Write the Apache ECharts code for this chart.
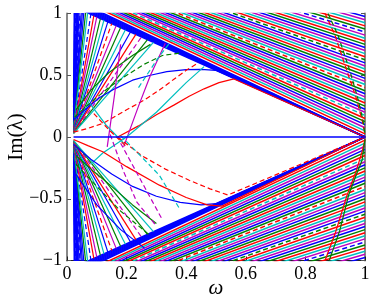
<!DOCTYPE html>
<html><head><meta charset="utf-8">
<script src="https://cdn.jsdelivr.net/npm/echarts@6/dist/echarts.min.js"></script>
<style>html,body{margin:0;padding:0;background:#fff}#c{width:374px;height:297px}</style>
</head><body><div id="c"></div>
<script>
// ---- data ----
const xTicks = [0, 0.2, 0.4, 0.6, 0.8, 1];
const yTicks = [-1, -0.5, 0, 0.5, 1];
// fan of straight lines (|Im| of conjugate pairs): value at omega=0 and at omega=1
const fanLeft  = [1.08,1.09,1.10,1.11,1.12,1.13,1.14,
  1.163,1.176,1.189,1.202,1.215,1.228,1.241,1.254,1.267,1.280,1.293,1.306,1.319,1.332,1.345,1.358,1.371,1.384,1.397,1.410,
  1.423,1.436,1.449,1.462,1.475,1.488,1.501,1.514,1.527,1.540,1.553,1.566,1.579,1.592,1.605,1.618,1.631,1.644,1.657];
const fanRight = [0,0,0,0,0,0,0,
  0.025,0.05,0.075,0.10,0.125,0.15,0.175,0.20,0.225,0.25,0.275,0.30,0.325,0.35,0.375,0.40,0.425,0.45,0.475,0.50,
  0.525,0.55,0.575,0.60,0.625,0.65,0.675,0.70,0.725,0.75,0.775,0.80,0.825,0.85,0.875,0.90,0.925,0.95,0.975];
// rising branches near the left edge: |Im| at omega=0.022, then the point where they reach the fan
const riseStartY = [0.32,0.28,0.24,0.21,0.18,0.16,0.14,0.12,0.11,0.10,0.09,0.085,0.08,0.075,0.07,0.065,0.06,0.06,0.055,0.05,0.05,0.045,0.045,0.04,0.04,0.035,0.035,0.03,0.03,0.03];
const riseEndW   = [0.024,0.026,0.028,0.030,0.032,0.034,0.036,0.038,0.041,0.044,0.048,0.052,0.057,0.063,0.070,0.080,0.090,0.100,0.112,0.124,0.137,0.150,0.165,0.180,0.196,0.213,0.231,0.250,0.270,0.290];
const riseEndY   = [1.02,1.02,1.02,1.02,1.02,1.02,1.02,1.02,1.02,1.02,1.02,1.02,1.02,1.02,1.02,0.994,0.983,0.972,0.959,0.946,0.932,0.918,0.902,0.886,0.868,0.850,0.831,0.810,0.788,0.767];
// individual curves (omega, Im)
const curves = [
  {c:'#0000FF', d:0, w:[0.022,0.06,0.11,0.16,0.22,0.28,0.335,0.40,0.45,0.50,1.0], y:[0.14,0.22,0.32,0.39,0.46,0.50,0.53,0.545,0.548,0.54,0.0]},
  {c:'#FF0000', d:1, w:[0.022,0.07,0.12,0.20,0.26,0.31,0.36,0.40,0.44], y:[0.04,0.07,0.11,0.22,0.30,0.38,0.47,0.54,0.60]},
  {c:'#008000', d:1, w:[0.025,0.08,0.14,0.20,0.26,0.32,0.38], y:[0.16,0.28,0.40,0.50,0.59,0.66,0.68]},
  {c:'#008000', d:0, w:[0.03,0.08,0.14,0.22,0.28], y:[0.22,0.38,0.52,0.66,0.75]},
  {c:'#FF0000', d:0, w:[0.17,0.24,0.30,0.36,0.41,0.46,0.51,0.56,1.0], y:[0.0,0.09,0.18,0.26,0.33,0.39,0.44,0.47,0.0]},
  {c:'#BF00BF', d:0, w:[0.135,0.16,0.18], y:[-0.08,0.35,0.75]},
  {c:'#BF00BF', d:0, w:[0.19,0.24,0.28,0.33], y:[-0.08,0.25,0.50,0.76]},
  {c:'#00BFBF', d:0, w:[0.077,0.13,0.17,0.19], y:[0.27,0.10,0.0,-0.05]},
  {c:'#00BFBF', d:0, w:[0.08,0.12,0.20,0.30,0.40,0.46], y:[-0.22,-0.13,0.0,0.20,0.44,0.57]},
  {c:'#00BFBF', d:1, w:[0.24,0.30,0.35], y:[0.40,0.62,0.78]},
  {c:'#FF0000', d:1, w:[0.09,0.14,0.20], y:[0.19,0.06,-0.08]},
  // lower half
  {c:'#0000FF', d:0, w:[0.022,0.08,0.15,0.22,0.30,0.38,0.45,0.50,1.0], y:[-0.06,-0.18,-0.30,-0.40,-0.48,-0.53,-0.55,-0.54,0.0]},
  {c:'#FF0000', d:0, w:[0.022,0.07,0.12,0.20,0.31,0.40,0.47,0.52,1.0], y:[-0.02,-0.07,-0.12,-0.24,-0.39,-0.49,-0.55,-0.56,0.0]},
  {c:'#FF0000', d:1, w:[0.17,0.25,0.33,0.41,0.48,0.54,1.0], y:[0.0,-0.15,-0.26,-0.35,-0.42,-0.47,0.0]},
  {c:'#008000', d:0, w:[0.03,0.09,0.15,0.22,0.30], y:[-0.15,-0.28,-0.40,-0.55,-0.70]},
  {c:'#008000', d:1, w:[0.03,0.10,0.18,0.28], y:[-0.22,-0.40,-0.60,-0.80]},
  {c:'#00BFBF', d:1, w:[0.18,0.25,0.31,0.38], y:[0.01,-0.16,-0.31,-0.59]},
  {c:'#BF00BF', d:1, w:[0.145,0.19,0.235,0.30], y:[0.02,-0.28,-0.53,-0.72]},
  {c:'#BF00BF', d:1, w:[0.18,0.25,0.32], y:[-0.05,-0.36,-0.67]},
  {c:'#0000FF', d:0, w:[0.03,0.10,0.18,0.26], y:[-0.30,-0.55,-0.75,-0.90]},
  // arcs at the right
  {c:'#FF0000', d:1, w:[0.866,0.90,0.94,0.97,0.99,1.0], y:[1.0,0.82,0.53,0.32,0.14,0.02]},
  {c:'#008000', d:1, w:[0.876,0.91,0.95,0.975,0.993,1.0], y:[1.0,0.82,0.53,0.32,0.14,0.02]},
  {c:'#FF0000', d:0, w:[0.866,0.90,0.94,0.97,0.99,1.0], y:[-1.0,-0.78,-0.47,-0.28,-0.12,-0.02]},
  {c:'#008000', d:0, w:[0.88,0.915,0.945,0.975,0.99,1.0], y:[-1.0,-0.76,-0.47,-0.28,-0.19,-0.02]},
  // real eigenvalues: Im = 0
  {c:'#0000FF', d:0, lw:1.6, w:[0.022,1.0], y:[0,0]}
];
const palette = ['#0000FF','#008000','#FF0000','#00BFBF','#BF00BF'];

// ---- build series ----
const series = [];
function add(xs, ys, color, dashed, width){
  series.push({type:'line', data: xs.map((x,i)=>[x, ys[i]]), showSymbol:false, silent:true,
    clip:true, animation:false,
    lineStyle:{color:color, width:width||1.2, type: dashed ? [5,3] : 'solid'}});
}
[1,-1].forEach(sgn => {
  for (let i = fanLeft.length-1; i >= 0; i--) {
    const cluster = fanRight[i] === 0;
    const col = cluster ? '#0000FF' : palette[i % 5];
    const dash = cluster ? false : (i % 9) === 4;
    add([0, 1], [sgn*fanLeft[i], sgn*fanRight[i]], col, dash, 1.5);
  }
  for (let i = 0; i < riseEndW.length; i++) {
    const col = i < 13 ? '#0000FF' : palette[(i*2) % 5];
    add([0.022, riseEndW[i]], [sgn*riseStartY[i], sgn*riseEndY[i]], col, i%6===3);
  }
});
curves.forEach(cv => add(cv.w, cv.y, cv.c, cv.d === 1, cv.lw));

const font = "'Liberation Serif', 'Times New Roman', serif";
const chart = echarts.init(document.getElementById('c'), null, {renderer:'canvas'});
chart.setOption({
  animation:false,
  backgroundColor:'#fff',
  grid:{left:67, right:9, top:13.5, bottom:36.5, containLabel:false, outerBoundsMode:'none'},
  xAxis:{type:'value', min:xTicks[0], max:xTicks[xTicks.length-1], interval:0.2,
    name:'ω', nameLocation:'middle', nameGap:17, nameMoveOverlap:false,
    nameTextStyle:{fontFamily:font, fontSize:21, fontStyle:'italic', color:'#000'},
    axisLine:{show:true, onZero:false, lineStyle:{color:'#222', width:1}},
    axisTick:{show:true, inside:true, length:4, lineStyle:{color:'#222'}},
    axisLabel:{fontFamily:font, fontSize:18, color:'#000', margin:5,
      formatter:v=>String(v)},
    splitLine:{show:false}},
  yAxis:[{type:'value', min:yTicks[0], max:yTicks[yTicks.length-1], interval:0.5,
    name:'Im(λ)', nameLocation:'middle', nameGap:40, nameRotate:90, nameMoveOverlap:false,
    nameTextStyle:{fontFamily:font, fontSize:21, color:'#000'},
    axisLine:{show:true, onZero:false, lineStyle:{color:'#888', width:2}},
    axisTick:{show:true, inside:true, length:4, lineStyle:{color:'#555'}},
    axisLabel:{fontFamily:font, fontSize:18, color:'#000', margin:5,
      formatter:v=>String(v).replace('-', '\u2212')},
    splitLine:{show:false}},
   {type:'value', position:'right', min:yTicks[0], max:yTicks[yTicks.length-1], interval:0.5,
    axisLine:{show:true, onZero:false, lineStyle:{color:'#888', width:2}},
    axisTick:{show:true, inside:true, length:4, lineStyle:{color:'#555'}},
    axisLabel:{show:false}, splitLine:{show:false}}],
  series: series
});
</script></body></html>
